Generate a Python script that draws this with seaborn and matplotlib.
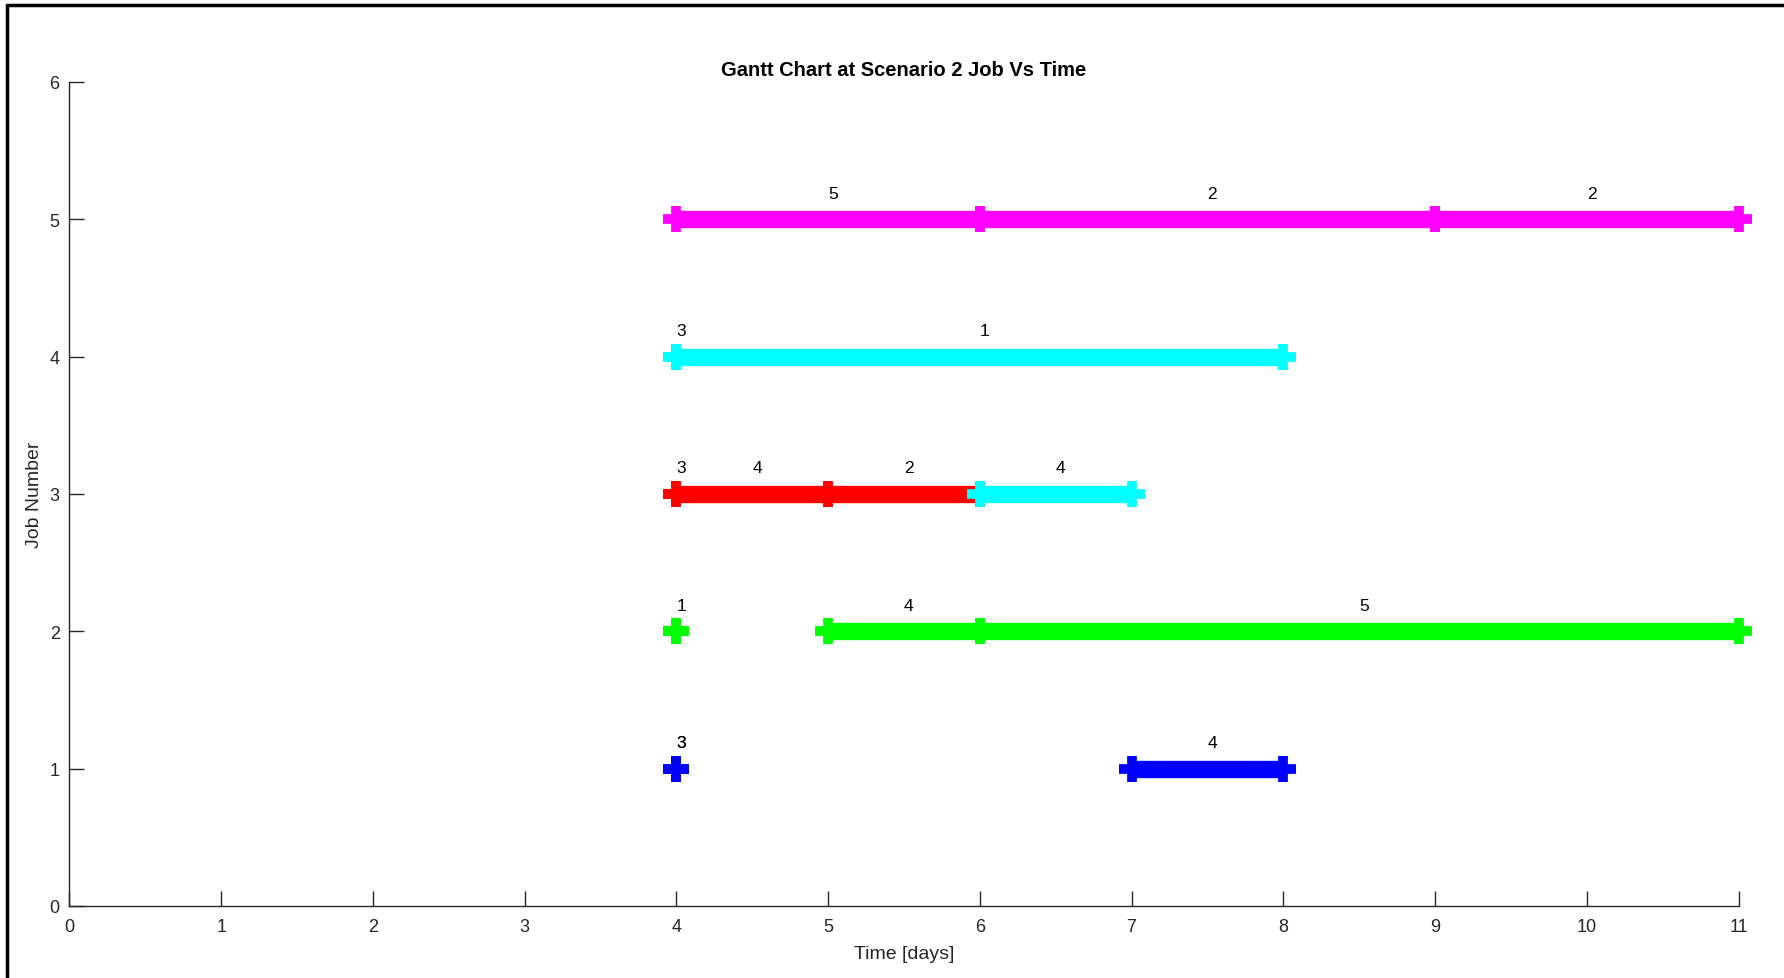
import matplotlib
matplotlib.use("Agg")
import matplotlib.pyplot as plt
from matplotlib.lines import Line2D
import pandas as pd
import seaborn as sns

# Schedule: one row per operation (job, start day, end day, machine label, colour)
jobs     = [1, 1, 1, 2, 2, 2, 3, 3, 3, 3, 4, 4, 5, 5, 5]
starts   = [4, 4, 7, 4, 5, 6, 4, 4, 5, 6, 4, 4, 4, 6, 9]
ends     = [4, 4, 8, 4, 6, 11, 4, 5, 6, 7, 4, 8, 6, 9, 11]
machines = ["3", "3", "4", "1", "4", "5", "3", "4", "2", "4", "3", "1", "5", "2", "2"]
colors   = ["#0000ff", "#0000ff", "#0000ff",
            "#00ff00", "#00ff00", "#00ff00",
            "#ff0000", "#ff0000", "#ff0000", "#00ffff",
            "#00ffff", "#00ffff",
            "#ff00ff", "#ff00ff", "#ff00ff"]

x_ticks = list(range(0, 12))
y_ticks = list(range(0, 7))

sched = pd.DataFrame({"job": jobs, "start": starts, "end": ends,
                      "machine": machines, "color": colors})

sns.set_theme(style="white")
plt.rcParams["font.family"] = ["Liberation Sans", "DejaVu Sans"]

W, H, DPI = 1784, 979, 100
fig = plt.figure(figsize=(W / DPI, H / DPI), dpi=DPI)
ax = fig.add_axes([69.4 / W, 1 - 906.8 / H, (1738.5 - 69.4) / W, (906.8 - 83) / H])

dark = "#262626"
for _, r in sched.iterrows():
    seg = pd.DataFrame({"t": [r.start, r.end], "j": [r.job, r.job]})
    sns.lineplot(data=seg, x="t", y="j", ax=ax, color=r.color, linewidth=12.5,
                 marker="+", markersize=19, markeredgewidth=7,
                 markeredgecolor=r.color, estimator=None, sort=False,
                 solid_capstyle="butt", clip_on=False, legend=False)
    mid = (r.start + r.end) / 2
    ax.text(mid, r.job + 0.19, r.machine, ha="left", va="center",
            fontsize=12.5, color="black")

ax.set_xlim(0, 11)
ax.set_ylim(0, 6)
ax.set_xticks(x_ticks)
ax.set_yticks(y_ticks)
ax.set_xticklabels([str(v) for v in x_ticks])
ax.set_yticklabels([str(v) for v in y_ticks])
ax.tick_params(axis="both", which="major", bottom=True, left=True,
               direction="in", length=11, width=1, colors=dark,
               labelsize=13, labelcolor=dark)
ax.tick_params(axis="x", pad=9)
ax.tick_params(axis="y", pad=7)

for side in ("top", "right"):
    ax.spines[side].set_visible(False)
for side in ("left", "bottom"):
    ax.spines[side].set_color(dark)
    ax.spines[side].set_linewidth(1.0)

ax.set_xlabel("Time [days]", fontsize=14, color=dark, labelpad=7)
ax.set_ylabel("Job Number", fontsize=14, color=dark, labelpad=5)
ax.set_title("Gantt Chart at Scenario 2 Job Vs Time", fontsize=14.5,
             fontweight="bold", color="black", pad=5)

# Outer frame along the top and left edges of the figure
fig.add_artist(Line2D([7 / W, 1], [1 - 6 / H, 1 - 6 / H], transform=fig.transFigure,
                      color="black", linewidth=2.5))
fig.add_artist(Line2D([7 / W, 7 / W], [0, 1 - 6 / H], transform=fig.transFigure,
                      color="black", linewidth=2.5))

fig.savefig("out.png", dpi=DPI, facecolor="white")
